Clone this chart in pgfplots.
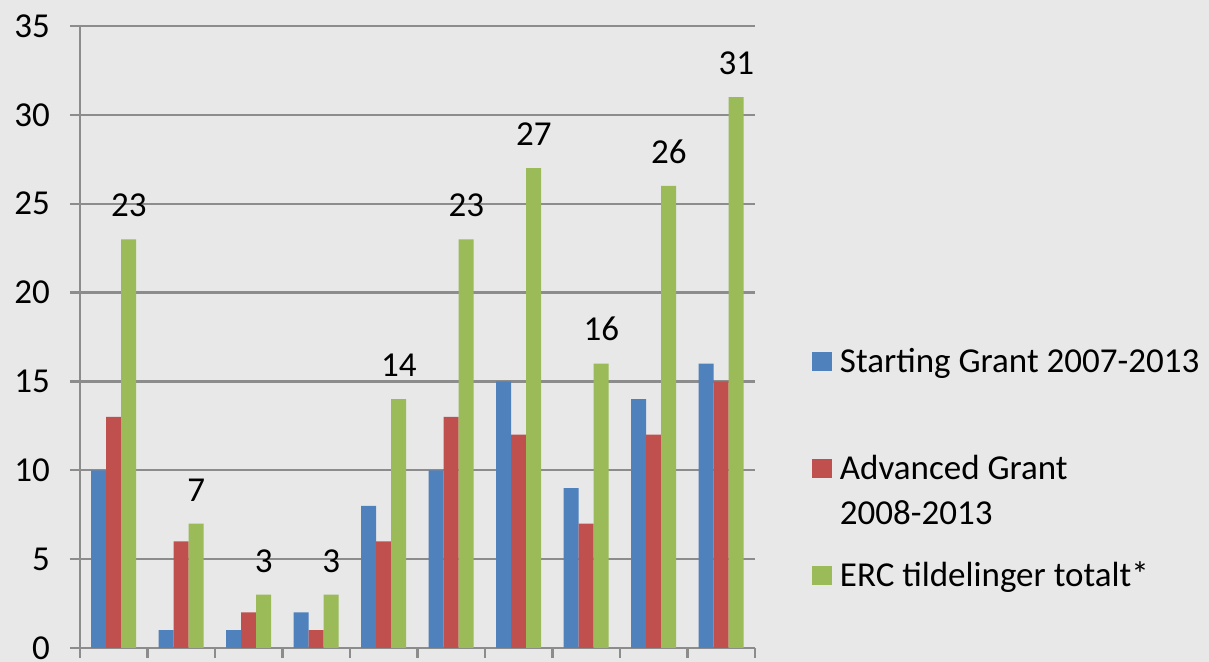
\documentclass[border=0pt]{standalone}
\usepackage{fontspec}
\setmainfont{Carlito}
\usepackage{pgfplots}
\pgfplotsset{compat=1.18}
\definecolor{bgc}{RGB}{232,232,232}
\definecolor{gridc}{RGB}{140,140,140}
\definecolor{sblue}{RGB}{79,129,189}
\definecolor{sred}{RGB}{192,80,77}
\definecolor{sgreen}{RGB}{155,187,89}
\newcommand\chfont{\fontsize{17.5}{22.5}\selectfont}
\newcommand\lgtwo[2]{\smash{\begin{tabular}[t]{@{}l@{}}#1\\#2\end{tabular}}}
\begin{document}
\begin{tikzpicture}
\path[use as bounding box, fill=bgc] (-40pt,-7pt) rectangle (564.5pt,324pt);
\begin{axis}[
  at={(0pt,0pt)}, anchor=south west,
  width=337.5pt, height=311pt, scale only axis,
  ybar=0pt, bar width=7.5pt,
  xmin=-0.5, xmax=9.5, ymin=0, ymax=35,
  xtick={-0.5,0.5,...,9.5}, xticklabels={},
  ytick={0,5,...,35},
  axis lines*=left,
  tick align=outside,
  major tick length=5pt,
  ymajorgrids,
  grid style={gridc, line width=1.2pt},
  axis line style={gridc, line width=1.2pt},
  major tick style={gridc, line width=1.2pt},
  tick label style={font=\chfont},
  yticklabel style={xshift=-6.5pt},
  /pgf/number format/assume math mode=true,
  every axis plot/.append style={draw=none},
  legend image code/.code={\fill[#1] (0pt,1pt) rectangle (10pt,10.5pt);},
  legend style={at={(1.0844,0.4928)}, anchor=north west, draw=none, fill=none,
    inner sep=0pt, outer sep=0pt, row sep=31pt, column sep=4pt, font=\chfont,
    nodes={inner sep=0pt, anchor=base west, text height=15.75pt, text depth=6.75pt},
    cells={anchor=base west}},
  clip=false,
]
\addplot[fill=sblue] coordinates {(0,10) (1,1) (2,1) (3,2) (4,8) (5,10) (6,15) (7,9) (8,14) (9,16)};
\addlegendentry{Starting Grant 2007-2013}
\addplot[fill=sred] coordinates {(0,13) (1,6) (2,2) (3,1) (4,6) (5,13) (6,12) (7,7) (8,12) (9,15)};
\addlegendentry{{\lgtwo{Advanced Grant}{2008-2013}}}
\addplot[fill=sgreen, nodes near coords,
  every node near coord/.append style={font=\chfont, inner sep=0pt, anchor=south, yshift=11pt, text=black, text height=, text depth=}]
  coordinates {(0,23) (1,7) (2,3) (3,3) (4,14) (5,23) (6,27) (7,16) (8,26) (9,31)};
\addlegendentry{ERC tildelinger totalt*}
\end{axis}
\end{tikzpicture}
\end{document}
